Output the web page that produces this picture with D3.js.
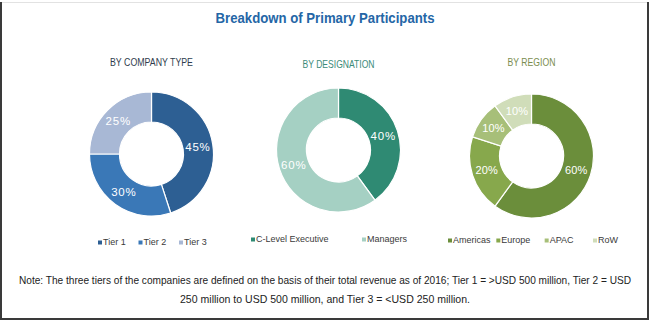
<!DOCTYPE html>
<html>
<head>
<meta charset="utf-8">
<script src="https://cdn.jsdelivr.net/npm/d3@7/dist/d3.min.js"></script>
<style>
  html, body { margin: 0; padding: 0; background: #ffffff; }
  svg { display: block; }
  text { font-family: "Liberation Sans Narrow", "Arial Narrow", "Liberation Sans", Arial, sans-serif; }
</style>
</head>
<body>
<svg id="chart" width="650" height="321"></svg>
<script>
// ---- Data ----
const chartTitle = "Breakdown of Primary Participants";
const panelTitles = ["BY COMPANY TYPE", "BY DESIGNATION", "BY REGION"];

const companyTypes = ["Tier 1", "Tier 2", "Tier 3"];
const companyShares = [45, 30, 25];

const designations = ["C-Level Executive", "Managers"];
const designationShares = [40, 60];

const regions = ["Americas", "Europe", "APAC", "RoW"];
const regionShares = [60, 20, 10, 10];

const noteLines = [
  "Note: The three tiers of the companies are defined on the basis of their total revenue as of 2016; Tier 1 = >USD 500 million, Tier 2 = USD",
  "250 million to USD 500 million, and Tier 3 = <USD 250 million."
];

// ---- Styling / layout ----
const W = 650, H = 321;
const svg = d3.select("#chart");

const panels = [
  { labels: companyTypes, values: companyShares,
    colors: ["#2d5f93", "#3a78b7", "#a8b8d5"],
    titleColor: "#2f3d4e", cx: 151.5, cy: 154, titleY: 66, titleW: 83,
    legendY: 245, legendRange: [98, 179] },
  { labels: designations, values: designationShares,
    colors: ["#2f8a73", "#a5d0c3"],
    titleColor: "#3b8b79", cx: 338.5, cy: 150, titleY: 68, titleW: 72,
    legendY: 242, legendRange: [251, 362] },
  { labels: regions, values: regionShares,
    colors: ["#6b8e3b", "#87a84c", "#a7bf79", "#d0ddb9"],
    titleColor: "#7b8d4f", cx: 531.5, cy: 156, titleY: 66, titleW: 48,
    legendY: 243, legendRange: [448, 593] }
];

// Frame
svg.append("line").attr("x1", 0.5).attr("x2", 648.5).attr("y1", 2.5).attr("y2", 2.5)
  .attr("stroke", "#e2e2e2").attr("stroke-width", 1);
svg.append("path")
  .attr("d", "M1,2 L1,319 L648,319 L648,2")
  .attr("fill", "none").attr("stroke", "#3a3a3a").attr("stroke-width", 2);

// Title
svg.append("text")
  .attr("x", W / 2).attr("y", 23)
  .attr("text-anchor", "middle")
  .attr("font-size", 14).attr("font-weight", "bold")
  .attr("fill", "#2466a6")
  .attr("textLength", 219).attr("lengthAdjust", "spacingAndGlyphs")
  .text(chartTitle);

const rOuter = 62, rInner = 32;
const pie = d3.pie().sort(null).value(d => d.value);
const arc = d3.arc().innerRadius(rInner).outerRadius(rOuter);
const labelArc = d3.arc().innerRadius((rInner + rOuter) / 2).outerRadius((rInner + rOuter) / 2);

panels.forEach((p, i) => {
  const data = p.labels.map((l, j) => ({ label: l, value: p.values[j] }));
  const color = d3.scaleOrdinal().domain(p.labels).range(p.colors);

  // Panel title
  svg.append("text")
    .attr("x", p.cx).attr("y", p.titleY)
    .attr("text-anchor", "middle")
    .attr("font-size", 10.5)
    .attr("fill", p.titleColor)
    .attr("textLength", p.titleW).attr("lengthAdjust", "spacingAndGlyphs")
    .text(panelTitles[i]);

  const g = svg.append("g").attr("transform", `translate(${p.cx},${p.cy})`);
  const arcs = pie(data);

  g.selectAll("path").data(arcs).join("path")
    .attr("d", arc)
    .attr("fill", d => color(d.data.label))
    .attr("stroke", "#ffffff").attr("stroke-width", 1.2);

  g.selectAll("text").data(arcs).join("text")
    .attr("transform", d => `translate(${labelArc.centroid(d)})`)
    .attr("text-anchor", "middle")
    .attr("dy", "0.36em")
    .attr("font-size", i === 2 ? 11 : 11.5)
    .attr("letter-spacing", i === 2 ? 0.2 : 0.8)
    .attr("fill", "#ffffff")
    .text(d => d.data.value + "%");

  // Legend
  const lx = d3.scalePoint().domain(p.labels).range(p.legendRange);
  const lg = svg.append("g");
  const items = lg.selectAll("g").data(p.labels).join("g")
    .attr("transform", d => `translate(${lx(d)},${p.legendY})`);
  items.append("rect")
    .attr("x", 0).attr("y", -4.5).attr("width", 4).attr("height", 4)
    .attr("fill", d => color(d));
  items.append("text")
    .attr("x", 5).attr("y", 0)
    .attr("font-size", 9)
    .attr("fill", "#3a3a3a")
    .text(d => d);
});

// Note
svg.selectAll("text.note").data(noteLines).join("text")
  .attr("class", "note")
  .attr("x", W / 2)
  .attr("y", (d, i) => 284 + i * 19)
  .attr("text-anchor", "middle")
  .attr("font-size", 10.2)
  .attr("fill", "#222222")
  .attr("textLength", (d, i) => i === 0 ? 612 : 290)
  .attr("lengthAdjust", "spacingAndGlyphs")
  .text(d => d);
</script>
</body>
</html>
